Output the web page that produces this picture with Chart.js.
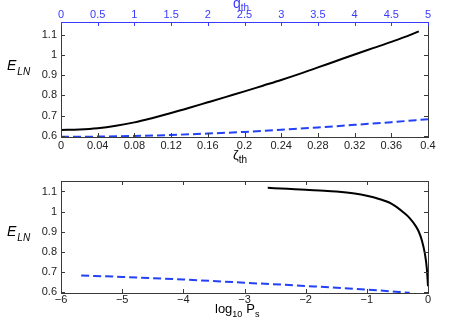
<!DOCTYPE html>
<html lang="en">
<head>
<meta charset="UTF-8">
<title>E_LN vs zeta_th and log10 Ps</title>
<style>
    body { margin: 0; background: #fff; }
    .panel { position: absolute; left: 0; width: 471px; height: 166px; }
</style>
</head>
<body>
<div class="panel" style="top:0"><canvas id="topChart" width="471" height="166"></canvas></div>
<div class="panel" style="top:166px"><canvas id="bottomChart" width="471" height="166"></canvas></div>

<script src="https://cdn.jsdelivr.net/npm/chart.js"></script>
<script>
// --- data ---
const zetaSolid = [0, 0.02, 0.04, 0.06, 0.08, 0.10, 0.12, 0.14, 0.16, 0.18, 0.20, 0.22, 0.24, 0.26, 0.28, 0.30, 0.32, 0.34, 0.36, 0.38, 0.39];
const eSolidTop = [0.630, 0.632, 0.638, 0.650, 0.667, 0.689, 0.713, 0.739, 0.766, 0.793, 0.820, 0.848, 0.876, 0.906, 0.938, 0.970, 1.002, 1.033, 1.064, 1.097, 1.116];
const zetaDash = [0, 0.04, 0.08, 0.12, 0.16, 0.20, 0.24, 0.28, 0.32, 0.36, 0.40];
const eDashTop = [0.596, 0.597, 0.600, 0.605, 0.612, 0.620, 0.631, 0.642, 0.655, 0.668, 0.683];

const logPsSolid = [-2.62, -2.3, -2.0, -1.7, -1.5, -1.2, -1.0, -0.8, -0.6, -0.5, -0.4, -0.3, -0.2, -0.15, -0.1, -0.05, -0.02, 0];
const eSolidBottom = [1.118, 1.113, 1.108, 1.104, 1.100, 1.090, 1.079, 1.063, 1.040, 1.020, 0.996, 0.968, 0.928, 0.900, 0.857, 0.790, 0.720, 0.630];
const logPsDash = [-5.67, -5, -4, -3, -2, -1, -0.3];
const eDashBottom = [0.683, 0.676, 0.663, 0.647, 0.631, 0.613, 0.597];

const zetaTicks = [0, 0.04, 0.08, 0.12, 0.16, 0.2, 0.24, 0.28, 0.32, 0.36, 0.4];
const qTicks = [0, 0.5, 1, 1.5, 2, 2.5, 3, 3.5, 4, 4.5, 5];
const eTicks = [0.6, 0.7, 0.8, 0.9, 1, 1.1];
const logPsTicks = [-6, -5, -4, -3, -2, -1, 0];

const FONT = '"Liberation Sans", Arial, Helvetica, sans-serif';
const AXIS = '#3a3a3a';
const BLUE = '#3a3aff';
const LINE_BLUE = 'rgb(35,65,245)';

const pts = (xs, ys) => xs.map((x, i) => ({ x: x, y: ys[i] }));
const setTicks = list => scale => { scale.ticks = list.map(v => ({ value: v })); };
const fmt = v => String(Math.round(v * 100) / 100).replace('-', '\u2212');

// MATLAB-style box with inward tick marks
const boxTicks = {
    id: 'boxTicks',
    afterDatasetsDraw(chart) {
        const { ctx, chartArea: a, scales } = chart;
        const len = 4;
        const seg = (x1, y1, x2, y2) => { ctx.beginPath(); ctx.moveTo(x1, y1); ctx.lineTo(x2, y2); ctx.stroke(); };
        ctx.save();
        ctx.lineWidth = 1;
        ctx.strokeStyle = AXIS;
        scales.y.ticks.forEach(t => {
            const py = Math.round(scales.y.getPixelForValue(t.value)) + 0.5;
            seg(a.left, py, a.left + len, py);
            seg(a.right, py, a.right - len, py);
        });
        scales.x.ticks.forEach(t => {
            const px = Math.round(scales.x.getPixelForValue(t.value)) + 0.5;
            seg(px, a.bottom, px, a.bottom - len);
            if (!scales.x2) seg(px, a.top, px, a.top + len);
        });
        ctx.strokeRect(Math.round(a.left) + 0.5, Math.round(a.top) + 0.5,
            Math.round(a.right - a.left), Math.round(a.bottom - a.top));
        if (scales.x2) {
            ctx.strokeStyle = BLUE;
            seg(a.left, Math.round(a.top) + 0.5, a.right, Math.round(a.top) + 0.5);
            scales.x2.ticks.forEach(t => {
                const px = Math.round(scales.x2.getPixelForValue(t.value)) + 0.5;
                seg(px, a.top, px, a.top + len);
            });
        }
        ctx.restore();
    }
};

// axis titles with subscripts
const subTitles = {
    id: 'subTitles',
    afterDraw(chart, args, opts) {
        const ctx = chart.ctx;
        ctx.save();
        ctx.textBaseline = 'alphabetic';
        (opts.items || []).forEach(item => {
            let x = item.x;
            ctx.fillStyle = item.color || '#000';
            item.parts.forEach(p => {
                ctx.font = (p.italic ? 'italic ' : '') + p.size + 'px ' + FONT;
                ctx.fillText(p.t, x, item.y + (p.dy || 0));
                x += ctx.measureText(p.t).width + (p.gap || 0);
            });
        });
        ctx.restore();
    }
};

const tickFont = { family: FONT, size: 11 };

function baseScale(min, max, list, position, size, tickOpts) {
    const horizontal = position === 'top' || position === 'bottom';
    return {
        type: 'linear', position: position, min: min, max: max,
        afterBuildTicks: setTicks(list),
        afterFit: s => { if (horizontal) s.height = size; else s.width = size; },
        grid: { display: false, drawTicks: false }, border: { display: false },
        ticks: Object.assign({ color: '#222', font: tickFont, maxRotation: 0, autoSkip: false, callback: fmt }, tickOpts)
    };
}

const eLabel = { x: 7, y: 70, parts: [{ t: 'E', size: 14, italic: true, gap: 1 }, { t: 'LN', size: 10, italic: true, dy: 5 }] };

new Chart(document.getElementById('topChart'), {
    type: 'line',
    data: {
        datasets: [
            { data: pts(zetaSolid, eSolidTop), borderColor: '#000', borderWidth: 2, pointRadius: 0, cubicInterpolationMode: 'monotone' },
            { data: pts(zetaDash, eDashTop), borderColor: LINE_BLUE, borderWidth: 2, borderDash: [8, 4], pointRadius: 0, cubicInterpolationMode: 'monotone' }
        ]
    },
    options: {
        responsive: false, animation: false,
        layout: { padding: { left: 0, right: 43, top: 0, bottom: 0 } },
        plugins: {
            legend: { display: false }, tooltip: { enabled: false },
            subTitles: { items: [
                eLabel,
                { x: 233, y: 159, parts: [{ t: '\u03B6', size: 13 }, { t: 'th', size: 10, dy: 4 }] },
                { x: 233, y: 8, color: BLUE, parts: [{ t: 'q', size: 14 }, { t: 'th', size: 10, dy: 3 }] }
            ] }
        },
        scales: {
            x: baseScale(0, 0.4, zetaTicks, 'bottom', 29, { padding: 2 }),
            x2: baseScale(0, 5, qTicks, 'top', 22, { padding: 0, color: BLUE }),
            y: baseScale(0.595, 1.162, eTicks, 'left', 61, { padding: 4 })
        }
    },
    plugins: [boxTicks, subTitles]
});

new Chart(document.getElementById('bottomChart'), {
    type: 'line',
    data: {
        datasets: [
            { data: pts(logPsSolid, eSolidBottom), borderColor: '#000', borderWidth: 2, pointRadius: 0, cubicInterpolationMode: 'monotone' },
            { data: pts(logPsDash, eDashBottom), borderColor: LINE_BLUE, borderWidth: 2, borderDash: [8, 4], pointRadius: 0, cubicInterpolationMode: 'monotone' }
        ]
    },
    options: {
        responsive: false, animation: false,
        layout: { padding: { left: 0, right: 43, top: 15, bottom: 0 } },
        plugins: {
            legend: { display: false }, tooltip: { enabled: false },
            subTitles: { items: [
                eLabel,
                { x: 215, y: 147, parts: [{ t: 'log', size: 13 }, { t: '10', size: 9, dy: 4, gap: 4 }, { t: 'P', size: 13 }, { t: 's', size: 9, dy: 4 }] }
            ] }
        },
        scales: {
            x: baseScale(-6, 0, logPsTicks, 'bottom', 39, { padding: 0 }),
            y: baseScale(0.596, 1.152, eTicks, 'left', 61, { padding: 4 })
        }
    },
    plugins: [boxTicks, subTitles]
});
</script>
</body>
</html>
